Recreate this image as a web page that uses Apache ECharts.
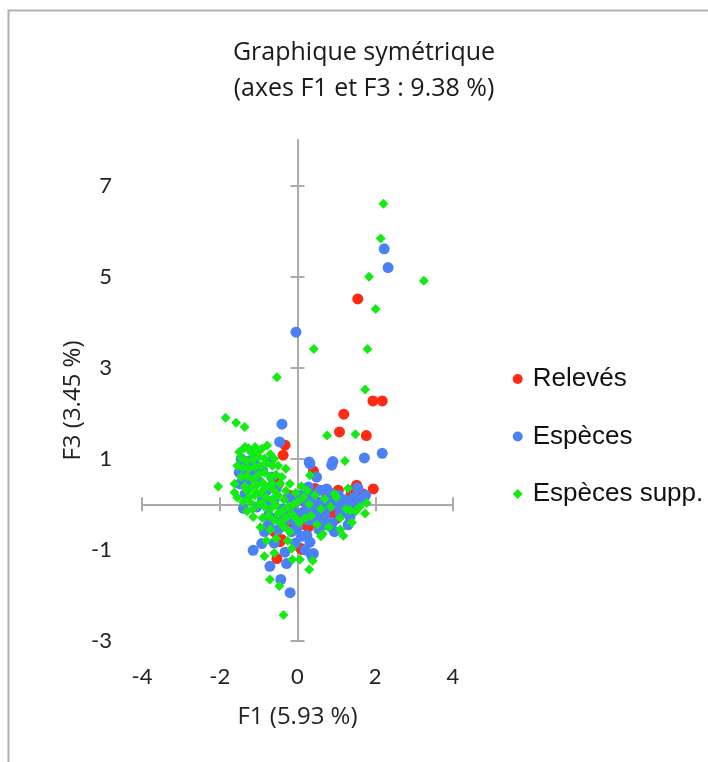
<!DOCTYPE html>
<html>
<head>
<meta charset="utf-8">
<script src="https://cdn.jsdelivr.net/npm/echarts@6/dist/echarts.min.js"></script>
<style>
html,body{margin:0;padding:0;background:#fff;}
#chart{width:708px;height:762px;}
</style>
</head>
<body>
<div id="chart"></div>
<script>
// ---- Data (F1, F3 coordinates) ----
const titleText = 'Graphique symétrique\n(axes F1 et F3 : 9.38 %)';
const xName = 'F1 (5.93 %)';
const yName = 'F3 (3.45 %)';
const xTicks = [-4, -2, 0, 2, 4];
const yTicks = [-3, -1, 1, 3, 5, 7];
const seriesNames = ['Relevés', 'Espèces', 'Espèces supp.'];

const releves = [
  [1.55,4.51],[1.94,2.27],[2.18,2.27],[1.19,1.98],[1.08,1.59],[1.77,1.51],
  [-0.32,1.30],[-0.37,1.08],[0.41,0.73],[-0.58,0.60],[-0.49,0.45],
  [1.95,0.34],[1.52,0.42],[1.69,0.23],[1.38,0.23],[1.05,0.31],[1.43,0.31],[1.09,-0.06],[1.01,-0.31],
  [0.28,-0.50],[0.22,-0.46],[0.09,-0.97],[-0.41,-0.77],[-0.53,-1.19],[-0.45,-0.82],[0.11,-0.99],
  [0.75,0.15],[0.55,-0.10],[-0.20,0.20],[-0.80,0.05],[0.90,-0.20],[-0.10,-0.45],[1.25,0.05],
  [0.45,0.35],[-0.60,-0.60],[0.20,0.05]
];

const especes = [
  [-0.04,3.78],[2.23,5.61],[2.33,5.20],[-0.40,1.76],[-0.46,1.37],[0.30,0.93],[0.32,0.89],
  [0.91,0.94],[0.88,0.86],[1.72,1.02],[2.18,1.12],[0.49,0.60],[1.55,0.36],[1.35,0.05],
  [-1.39,0.86],[-1.48,0.45],[-1.35,0.23],[-0.71,0.93],[-0.66,0.60],
  [-1.39,-0.09],[-1.05,-0.06],[-0.75,-0.24],[-0.37,-0.46],[-1.14,-1.01],[-0.92,-0.86],
  [-0.71,-1.36],[-0.28,-1.30],[-0.32,-1.05],[0.11,-0.31],[-0.15,-0.09],
  [0.28,0.38],[0.58,0.31],[0.75,0.34],[0.53,0.02],[0.91,-0.02],
  [0.15,-0.17],[0.41,-0.13],[0.75,-0.09],[1.26,-0.17],[1.35,-0.28],[0.32,-0.83],[0.41,-1.08],
  [0.24,-0.68],[0.36,-1.12],[-0.43,-1.65],[-0.19,-1.94],
  [-1.20,0.70],[-1.00,0.50],[-0.80,0.30],[-1.30,0.50],[-0.90,0.10],[-0.60,0.10],[-0.40,-0.10],
  [-0.20,-0.20],[-0.10,-0.35],[0.00,-0.50],[-0.55,-0.30],[-0.75,-0.45],[0.20,0.10],[0.40,0.00],
  [0.60,0.05],[0.80,0.10],[1.00,0.00],[1.20,0.10],[0.50,-0.30],[0.70,-0.25],[1.10,-0.20],
  [-1.10,1.00],[-0.90,0.75],[-1.25,0.95],[-0.55,0.35],[-0.25,0.15],[0.00,0.10],[0.10,-0.70],
  [-0.05,-0.85],[0.55,-0.55],[0.90,-0.40],[1.45,0.15],[1.60,0.10],[-0.60,-0.85],[-0.85,-0.60],
  [0.35,0.20],[-1.50,0.70],[-1.45,1.00],
  [0.10,0.20],[0.25,-0.05],[0.45,0.10],[0.65,-0.20],[0.85,0.25],[1.05,0.20],[1.15,-0.05],
  [1.30,-0.45],[1.50,0.00],[0.95,-0.60],[0.70,-0.45],[0.30,-0.35],[-0.05,0.05],[-0.30,-0.30],
  [0.05,-0.20],[-1.05,0.80],[-1.35,0.65],[-0.70,0.00],[-0.50,-0.55],[0.20,-1.00],[-0.15,-0.60],
  [1.75,0.20]
];

const especesSupp = [
  [2.21,6.60],[2.14,5.84],[1.84,5.00],[3.25,4.91],[2.01,4.29],[0.42,3.41],[1.80,3.41],
  [-0.53,2.79],[1.74,2.52],[-1.85,1.90],[-1.58,1.79],[-1.36,1.70],[0.76,1.51],[1.49,1.54],
  [-1.37,1.23],[-1.26,1.23],[-0.92,1.22],[-0.78,1.29],[-1.17,1.13],[1.22,0.95],[-0.30,0.78],
  [0.32,0.64],[-2.04,0.39],[-1.62,0.45],[-1.62,0.26],[-1.14,-0.28],[1.78,0.03],[1.74,-0.20],
  [1.18,-0.69],[1.35,-0.13],[0.95,0.23],[-0.85,-1.14],[-0.60,-1.07],[-0.15,-0.97],[-0.13,-1.21],
  [0.06,-1.21],[0.39,-1.24],[0.30,-1.43],[-0.71,-1.65],[-0.47,-1.79],[-0.36,-2.43],[0.60,-0.70],
  [-1.35,1.26],[-1.09,1.26],[-1.01,1.15],[-1.22,0.05],[-0.92,0.02],
  [-1.45,1.02],[-1.30,0.95],[-1.15,0.98],[-1.00,1.05],[-0.85,1.00],[-1.40,0.80],[-1.25,0.78],
  [-1.10,0.82],[-0.95,0.85],[-0.80,0.90],[-0.65,0.85],[-1.45,0.60],[-1.30,0.62],[-1.15,0.55],
  [-1.00,0.65],[-0.85,0.70],[-0.70,0.60],[-0.55,0.65],[-1.35,0.40],[-1.20,0.35],[-1.05,0.42],
  [-0.90,0.48],[-0.75,0.40],[-0.60,0.30],[-0.45,0.45],[-1.25,0.15],[-1.10,0.20],[-0.95,0.25],
  [-0.80,0.15],[-0.65,0.10],[-0.50,0.20],[-0.35,0.10],[-1.00,0.00],[-0.85,-0.05],[-0.70,-0.10],
  [-0.55,-0.02],[-0.40,-0.15],[-0.25,-0.05],[-0.90,-0.30],[-0.75,-0.25],[-0.60,-0.35],
  [-0.45,-0.40],[-0.30,-0.30],[-0.15,-0.20],[-1.30,-0.15],[-0.70,-0.55],[-0.20,-0.60],[-0.95,-0.50],
  [0.00,0.05],[0.15,0.15],[0.30,0.00],[0.45,0.20],[0.60,-0.10],[0.70,0.12],[0.85,-0.05],
  [1.00,0.15],[1.10,-0.30],[1.25,-0.10],[1.40,-0.40],[1.50,-0.15],[0.20,-0.30],[0.35,-0.25],
  [0.50,-0.45],[0.05,-0.40],[0.80,-0.50],[0.65,-0.65],[1.10,-0.55],[1.60,-0.05],[0.25,0.30],
  [0.10,0.40],[-0.05,0.25],[1.30,0.35],
  [-1.50,1.15],[-1.20,1.15],[-0.70,1.10],[-0.60,1.00],[-1.55,0.85],[-0.50,0.85],[-0.40,0.60],
  [-1.55,0.15],[-1.40,0.05],[-1.15,-0.10],[-0.50,-0.20],[-0.30,0.30],[-0.20,0.45],[-0.10,0.00],
  [-0.05,-0.30],[-1.05,0.25],[-0.65,0.45],[-0.85,0.35],[-1.30,0.30],[-0.35,-0.50],[-0.55,-0.75],
  [-0.80,-0.80],[-0.25,-0.80]
];

const colors = ['#FF2A12', '#4A82F5', '#14EB14'];
const axisGray = '#ababab';
const labelFont = 'Lato, "Noto Sans", sans-serif';
const nameFont = '"Open Sans", "Noto Sans", sans-serif';

const chart = echarts.init(document.getElementById('chart'));

function crossAxis(dim, inside) {
  return {
    type: 'value',
    min: dim === 'x' ? -4 : -3,
    max: dim === 'x' ? 4 : 8,
    position: dim === 'x' ? 'bottom' : 'left',
    axisLine: { show: true, onZero: true, onZeroAxisIndex: 0, lineStyle: { color: axisGray, width: 2 } },
    axisTick: { show: true, inside: inside, length: 7, lineStyle: { color: axisGray, width: 2 },
      customValues: dim === 'x' ? xTicks : yTicks },
    axisLabel: { show: false },
    splitLine: { show: false }
  };
}

chart.setOption({
  animation: false,
  backgroundColor: '#ffffff',
  graphic: [{
    type: 'rect',
    shape: { x: 8.5, y: 10.5, width: 800, height: 800 },
    style: { fill: 'none', stroke: '#b2b2b2', lineWidth: 2 },
    silent: true
  }],
  title: {
    text: titleText,
    left: 364,
    top: 35,
    padding: 0,
    textAlign: 'center',
    textStyle: { fontFamily: nameFont, fontSize: 25, fontWeight: 'normal', color: '#1a1a1a', lineHeight: 36 }
  },
  legend: {
    orient: 'vertical',
    left: 512.7,
    top: 364,
    padding: 0,
    itemWidth: 10,
    itemHeight: 10,
    itemGap: 27.5,
    textStyle: { fontFamily: '"Liberation Sans", Arial, sans-serif', fontSize: 26, color: '#111', lineHeight: 30, padding: [0, 0, 0, 5] },
    data: [
      { name: seriesNames[0], icon: 'circle' },
      { name: seriesNames[1], icon: 'circle' },
      { name: seriesNames[2], icon: 'diamond' }
    ]
  },
  grid: { left: 142, top: 140, width: 311, height: 501, outerBoundsMode: 'none' },
  xAxis: [
    {
      type: 'value', min: -4, max: 4, interval: 2, position: 'bottom',
      axisLine: { show: false, onZero: false },
      axisTick: { show: false },
      splitLine: { show: false },
      axisLabel: { margin: 25, fontFamily: labelFont, fontSize: 22, color: '#222', customValues: xTicks },
      name: xName, nameLocation: 'middle', nameGap: 64,
      nameTextStyle: { fontFamily: nameFont, fontSize: 24, color: '#222' }
    },
    crossAxis('x', true),
    crossAxis('x', false)
  ],
  yAxis: [
    {
      type: 'value', min: -3, max: 8, position: 'left',
      axisLine: { show: false, onZero: false },
      axisTick: { show: false },
      splitLine: { show: false },
      axisLabel: { margin: 30, fontFamily: labelFont, fontSize: 22, color: '#222', customValues: yTicks },
      name: yName, nameLocation: 'middle', nameGap: 57,
      nameTextStyle: { fontFamily: nameFont, fontSize: 24, color: '#222', padding: [0, 20, 0, 0] }
    },
    crossAxis('y', true),
    crossAxis('y', false)
  ],
  series: [
    { name: seriesNames[0], type: 'scatter', xAxisIndex: 0, yAxisIndex: 0, symbol: 'circle', symbolSize: 11,
      itemStyle: { color: colors[0], opacity: 1 }, data: releves, z: 3 },
    { name: seriesNames[1], type: 'scatter', xAxisIndex: 0, yAxisIndex: 0, symbol: 'circle', symbolSize: 11,
      itemStyle: { color: colors[1], opacity: 1 }, data: especes, z: 4 },
    { name: seriesNames[2], type: 'scatter', xAxisIndex: 0, yAxisIndex: 0, symbol: 'diamond', symbolSize: 10,
      itemStyle: { color: colors[2], opacity: 1 }, data: especesSupp, z: 5 }
  ]
});
</script>
</body>
</html>
